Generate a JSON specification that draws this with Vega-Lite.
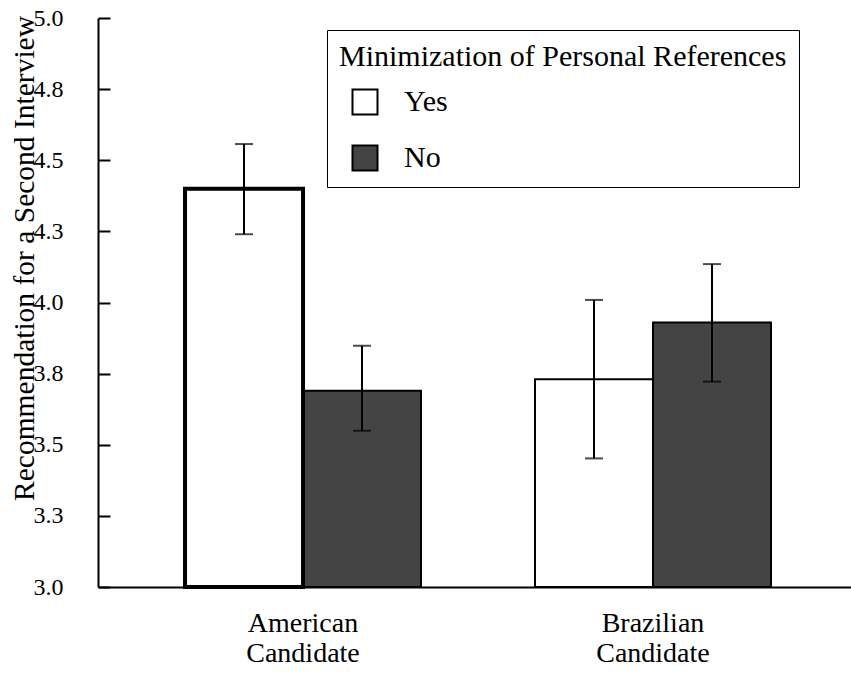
{
  "$schema": "https://vega.github.io/schema/vega-lite/v6.json",
  "width": 753,
  "height": 569,
  "autosize": {"type": "none"},
  "padding": {"left": 98, "top": 18, "right": 0, "bottom": 88},
  "background": "white",
  "config": {
    "view": {"stroke": null},
    "font": "Liberation Serif",
    "axis": {"labelFont": "Liberation Serif", "titleFont": "Liberation Serif", "labelColor": "black", "titleColor": "black", "domainColor": "black", "domainWidth": 2, "tickColor": "black", "tickWidth": 2, "grid": false, "titleFontWeight": "normal"},
    "axisY": {"labelFontSize": 24, "titleFontSize": 29.5, "tickSize": -12, "labelPadding": 47},
    "legend": {"labelFont": "Liberation Serif", "titleFont": "Liberation Serif"}
  },
  "data": {"values": [
    {"candidate": "American Candidate", "min": "No", "mean": 3.69, "lo": 3.549, "hi": 3.848},
    {"candidate": "Brazilian Candidate", "min": "No", "mean": 3.93, "lo": 3.722, "hi": 4.135},
    {"candidate": "Brazilian Candidate", "min": "Yes", "mean": 3.73, "lo": 3.452, "hi": 4.009},
    {"candidate": "American Candidate", "min": "Yes", "mean": 4.40, "lo": 4.24, "hi": 4.557}
  ]},
  "encoding": {
    "x": {
      "field": "candidate", "type": "nominal", "sort": ["American Candidate", "Brazilian Candidate"],
      "scale": {"paddingInner": 0.3257, "paddingOuter": 0.2386, "align": 0.521},
      "axis": {"title": null, "labelExpr": "split(datum.label, ' ')", "labelFontSize": 28, "labelLineHeight": 30, "labelColor": "black", "labelAngle": 0, "ticks": false, "labelPadding": 22, "domainColor": "black", "domainWidth": 2, "labelFont": "Liberation Serif"}
    },
    "xOffset": {"field": "min", "type": "nominal", "sort": ["Yes", "No"], "scale": {"paddingInner": 0, "paddingOuter": 0}}
  },
  "layer": [
    {
      "mark": {"type": "bar", "stroke": "black"},
      "encoding": {
        "y": {
          "field": "mean", "type": "quantitative",
          "scale": {"domain": [3, 5], "nice": false, "zero": false},
          "axis": {"title": "Recommendation for a Second Interview", "values": [3, 3.25, 3.5, 3.75, 4, 4.25, 4.5, 4.75, 5], "format": ".1f", "tickSize": -12, "labelFontSize": 24, "labelPadding": 47, "labelFont": "Liberation Serif", "titleFontSize": 29.5, "titleFont": "Liberation Serif", "titleAngle": -90, "titleX": -65, "titleY": 240, "titleBaseline": "alphabetic", "titleAlign": "center"}
        },
        "y2": {"datum": 3},
        "fill": {
          "field": "min", "type": "nominal",
          "scale": {"domain": ["Yes", "No"], "range": ["white", "#444444"]},
          "legend": {"title": "Minimization of Personal References", "orient": "none", "legendX": 229, "legendY": 12, "direction": "vertical", "strokeColor": "black", "fillColor": "white", "padding": 12, "titleFontSize": 30, "titleFontWeight": "normal", "titleColor": "black", "titleLimit": 1000, "titlePadding": 15, "labelFontSize": 30, "labelColor": "black", "symbolType": "square", "symbolSize": 625, "symbolStrokeColor": "black", "symbolStrokeWidth": 2, "symbolOffset": 11, "labelOffset": 24, "rowPadding": 22}
        },
        "strokeWidth": {"condition": {"test": "datum.candidate == 'American Candidate' && datum.min == 'Yes'", "value": 4}, "value": 2}
      }
    },
    {
      "mark": {"type": "rule", "color": "black", "strokeWidth": 2},
      "encoding": {"y": {"field": "lo", "type": "quantitative", "title": "Recommendation for a Second Interview"}, "y2": {"field": "hi"}}
    },
    {
      "mark": {"type": "tick", "color": "black", "thickness": 2, "size": 18},
      "encoding": {"y": {"field": "lo", "type": "quantitative", "title": "Recommendation for a Second Interview"}}
    },
    {
      "mark": {"type": "tick", "color": "black", "thickness": 2, "size": 18},
      "encoding": {"y": {"field": "hi", "type": "quantitative", "title": "Recommendation for a Second Interview"}}
    }
  ]
}
